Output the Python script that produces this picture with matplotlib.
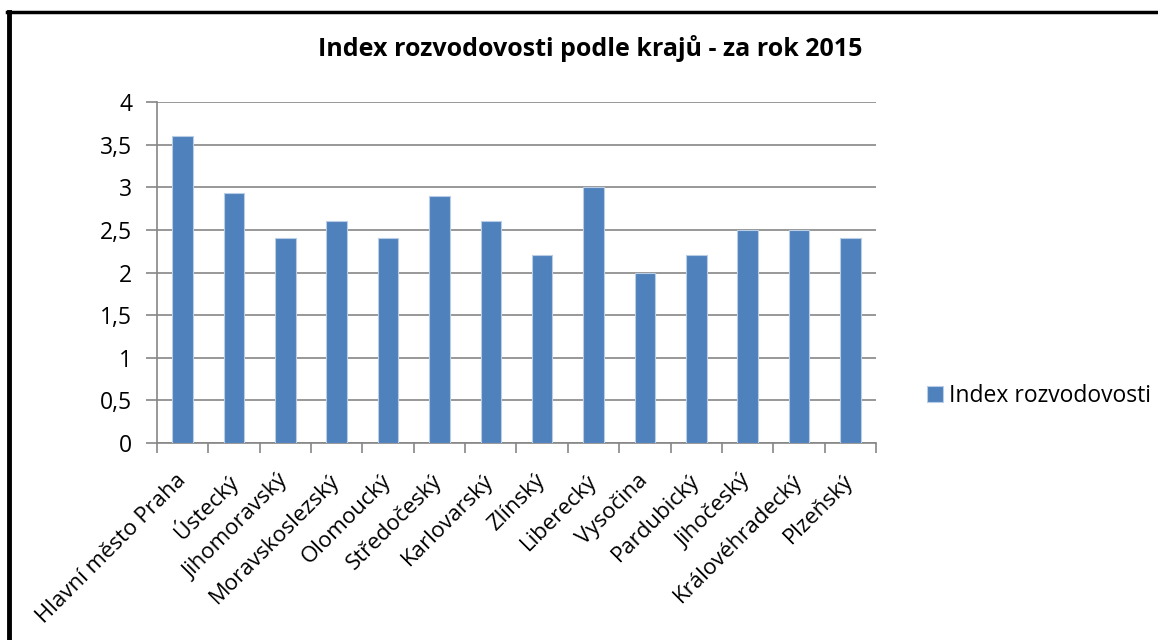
import matplotlib
matplotlib.use("Agg")
import matplotlib.pyplot as plt
from matplotlib.lines import Line2D
import numpy as np

categories = ["Hlavní město Praha", "Ústecký", "Jihomoravský", "Moravskoslezský",
              "Olomoucký", "Středočeský", "Karlovarský", "Zlínský", "Liberecký",
              "Vysočina", "Pardubický", "Jihočeský", "Královéhradecký", "Plzeňský"]
values = [3.6, 2.93, 2.4, 2.6, 2.4, 2.9, 2.6, 2.2, 3.0, 2.0, 2.2, 2.5, 2.5, 2.4]
yticks = [0, 0.5, 1, 1.5, 2, 2.5, 3, 3.5, 4]
ytick_labels = ["0", "0,5", "1", "1,5", "2", "2,5", "3", "3,5", "4"]
series_name = "Index rozvodovosti"
title = "Index rozvodovosti podle krajů - za rok 2015"

plt.rcParams['font.family'] = ['Open Sans', 'DejaVu Sans']

W, H = 1158, 640
fig = plt.figure(figsize=(W / 100, H / 100), dpi=100)
ax = fig.add_axes([157 / W, 1 - 443 / H, (876 - 157) / W, (443 - 102) / H])

x = np.arange(len(categories))
bars = ax.bar(x, values, width=0.4, color="#4F81BD", edgecolor="#B9CDE5",
              linewidth=0.8, zorder=3, label=series_name)

ax.set_xlim(-0.5, len(categories) - 0.5)
ax.set_ylim(0, 4)
ax.set_yticks(yticks)
ax.set_yticklabels(ytick_labels, fontsize=16.5)
ax.yaxis.grid(True, color="#868686", linewidth=1.2, zorder=0)
ax.set_axisbelow(True)

ax.set_xticks(np.arange(len(categories) + 1) - 0.5)
ax.set_xticklabels([])
ax.set_xticks(x, minor=True)
ax.set_xticklabels(categories, minor=True, rotation=45, ha="right",
                   va="center", rotation_mode="anchor", fontsize=16)
ax.tick_params(axis="x", which="minor", length=0, pad=25)
ax.tick_params(axis="x", which="major", length=7, color="#868686", width=1.2)
ax.tick_params(axis="y", length=8, color="#868686", width=1.2, pad=10)

for s in ["top", "right"]:
    ax.spines[s].set_visible(False)
for s in ["left", "bottom"]:
    ax.spines[s].set_color("#868686")
    ax.spines[s].set_linewidth(1.2)

fig.text(590 / W, 1 - 48 / H, title, ha="center", va="center",
         fontsize=18, fontweight="bold")

fig.legend(handles=[bars], labels=[series_name], loc="center left",
           bbox_to_anchor=(927 / W, 1 - 396 / H), frameon=False,
           fontsize=16.5, handlelength=0.7, handleheight=0.7,
           handletextpad=0.25, borderpad=0, borderaxespad=0)

# outer frame (left and top edges)
fig.add_artist(Line2D([9 / W, 9 / W], [0, 1 - 12 / H], color="black",
                      linewidth=3.5, transform=fig.transFigure))
fig.add_artist(Line2D([7 / W, 1], [1 - 12 / H, 1 - 12 / H], color="black",
                      linewidth=2.5, transform=fig.transFigure))

fig.savefig("out.png", dpi=100)
